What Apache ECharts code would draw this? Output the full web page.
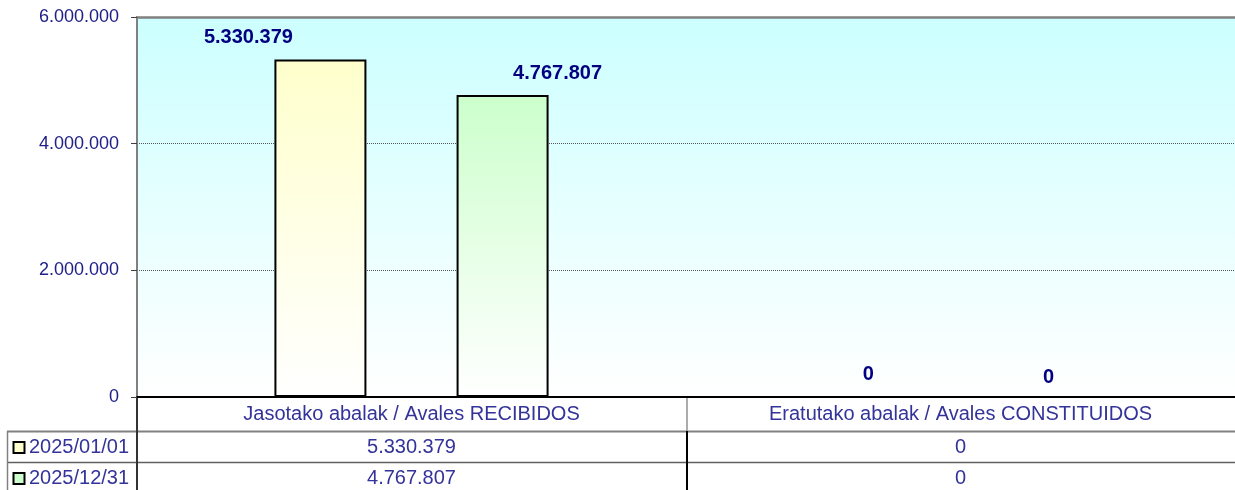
<!DOCTYPE html>
<html>
<head>
<meta charset="utf-8">
<script src="https://cdn.jsdelivr.net/npm/echarts@6/dist/echarts.min.js"></script>
<style>
  html, body { margin: 0; padding: 0; background: #fff; }
  #bar { width: 1235px; height: 490px; }
</style>
</head>
<body>
<div id="bar"></div>
<script>
// datos
var categories = ['Jasotako abalak / Avales RECIBIDOS', 'Eratutako abalak / Avales CONSTITUIDOS'];
var seriesNames = ['2025/01/01', '2025/12/31'];
var valuesStart = [5330379, 0];
var valuesEnd = [4767807, 0];
var yMin = 0, yMax = 6000000, yStep = 2000000;

// colores / posiciones de las etiquetas
var barColors = ['#FFFFCC', '#CCFFCC'];
var labelOffsets = [
    [[-72, 0], [-1, 0]],
    [[55, 0], [-3, 3]]
];
var font = 'Liberation Sans, Arial, sans-serif';

function fmt(v) {
    return String(v).replace(/\B(?=(\d{3})+(?!\d))/g, '.');
}

var myChart = echarts.init(document.getElementById('bar'));

function makeSeries(idx, values) {
    return {
        name: seriesNames[idx],
        type: 'bar',
        barWidth: 92,
        barGap: '98%',
        itemStyle: {
            borderColor: '#000',
            borderWidth: 2,
            color: new echarts.graphic.LinearGradient(0, 0, 0, 1, [
                { offset: 0, color: barColors[idx] },
                { offset: 1, color: '#FFFFFF' }
            ])
        },
        label: {
            show: true,
            position: 'top',
            distance: 12,
            fontFamily: font,
            fontSize: 20,
            fontWeight: 'bold',
            color: '#000080',
            formatter: function (p) { return fmt(p.value); }
        },
        data: values.map(function (v, i) {
            return { value: v, label: { offset: labelOffsets[idx][i] } };
        })
    };
}

var option = {
    animation: false,
    grid: {
        left: 137, top: 17, right: -2, bottom: 93,
        show: true,
        borderWidth: 0,
        backgroundColor: new echarts.graphic.LinearGradient(0, 0, 0, 1, [
            { offset: 0, color: '#CCFFFF' },
            { offset: 1, color: '#FFFFFF' }
        ])
    },
    xAxis: [
        {
            type: 'category',
            data: categories,
            axisLine: { lineStyle: { color: '#000', width: 2 } },
            axisTick: { show: false },
            axisLabel: {
                margin: 7,
                fontFamily: font,
                fontSize: 20,
                color: '#333399'
            }
        },
        {
            type: 'category',
            position: 'top',
            data: categories,
            axisLine: { lineStyle: { color: '#808080', width: 2.5 } },
            axisTick: { show: false },
            axisLabel: { show: false }
        }
    ],
    yAxis: {
        type: 'value',
        min: yMin,
        max: yMax,
        interval: yStep,
        axisLine: { show: true, lineStyle: { color: '#808080', width: 2 } },
        axisTick: { show: true, length: 6, lineStyle: { color: '#404040' } },
        axisLabel: {
            margin: 18,
            fontFamily: font,
            fontSize: 18,
            color: '#202088',
            formatter: function (v) { return fmt(v); }
        },
        splitLine: {
            lineStyle: {
                color: ['transparent', '#555', '#555', 'transparent'],
                type: 'dotted',
                width: 1
            }
        }
    },
    series: [makeSeries(0, valuesStart), makeSeries(1, valuesEnd)]
};
myChart.setOption(option);

// tabla de datos bajo el gráfico
var rowsY = [447, 478];
var rows = [valuesStart, valuesEnd];
var graphics = [];
function line(x1, y1, x2, y2, color, w) {
    graphics.push({ type: 'line', silent: true, shape: { x1: x1, y1: y1, x2: x2, y2: y2 },
        style: { stroke: color, lineWidth: w } });
}
line(7, 431.5, 1235, 431.5, '#808080', 2);
line(7, 462.5, 1235, 462.5, '#606060', 1.5);
line(7.5, 431, 7.5, 490, '#808080', 1.5);
line(137, 397, 137, 490, '#333', 2);
line(687, 397, 687, 431, '#909090', 1.5);
line(687, 431, 687, 490, '#000', 2);

rows.forEach(function (vals, r) {
    graphics.push({
        type: 'rect', silent: true,
        shape: { x: 13.5, y: rowsY[r] - 5, width: 11, height: 11 },
        style: { fill: barColors[r], stroke: '#000', lineWidth: 2 }
    });
    graphics.push({
        type: 'text', silent: true, x: 29, y: rowsY[r],
        style: { text: seriesNames[r], font: '20px ' + font, fill: '#333399',
            textAlign: 'left', textVerticalAlign: 'middle' }
    });
    vals.forEach(function (v, c) {
        var cx = myChart.convertToPixel({ xAxisIndex: 0 }, categories[c]);
        graphics.push({
            type: 'text', silent: true, x: cx, y: rowsY[r],
            style: { text: fmt(v), font: '20px ' + font, fill: '#333399',
                textAlign: 'center', textVerticalAlign: 'middle' }
        });
    });
});
myChart.setOption({ graphic: graphics });
</script>
</body>
</html>
